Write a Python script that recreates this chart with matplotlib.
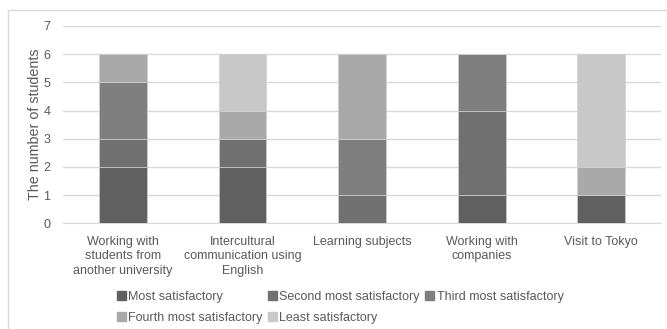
import matplotlib.pyplot as plt
import matplotlib.patches as mpatches
import numpy as np

plt.rcParams['font.family'] = ['Liberation Sans', 'DejaVu Sans']

categories = ['Working with\nstudents from\nanother university',
              'Intercultural\ncommunication using\nEnglish',
              'Learning subjects',
              'Working with\ncompanies',
              'Visit to Tokyo']
series = ['Most satisfactory', 'Second most satisfactory', 'Third most satisfactory',
          'Fourth most satisfactory', 'Least satisfactory']
most = [2, 2, 0, 1, 1]
second = [1, 1, 1, 3, 0]
third = [2, 0, 2, 2, 0]
fourth = [1, 1, 3, 0, 1]
least = [0, 2, 0, 0, 4]
colors = ['#606060', '#707070', '#7f7f7f', '#a9a9a9', '#c8c8c8']

txt = '#595959'
fs = 9
fig = plt.figure(figsize=(6.67, 3.29), dpi=100)
ax = fig.add_axes([0.0945, 0.321, 0.8965, 0.600])

x = np.arange(len(categories))
bottom = np.zeros(len(categories))
handles = []
for name, vals, c in zip(series, [most, second, third, fourth, least], colors):
    ax.bar(x, vals, 0.4, bottom=bottom, color=c, edgecolor='#d0d0d0', linewidth=0.5, zorder=3)
    bottom += np.array(vals)
    handles.append(mpatches.Patch(color=c, label=name))

ax.set_xlim(-0.5, len(categories) - 0.5)
ax.set_ylim(0, 7)
ax.set_yticks(range(8))
ax.set_xticks(x)
ax.set_xticklabels(categories, fontsize=fs, color=txt, linespacing=1.28)
ax.tick_params(axis='y', labelsize=fs, labelcolor=txt, length=0, pad=9)
ax.tick_params(axis='x', length=0, pad=9)
ax.grid(axis='y', color='#d9d9d9', linewidth=1, zorder=0)
for s in ['top', 'right', 'left']:
    ax.spines[s].set_visible(False)
ax.spines['bottom'].set_color('#d9d9d9')
ax.set_ylabel('The number of students', fontsize=10.3, color=txt, labelpad=1)

# column-wise order so that legend reads row by row
order = [0, 3, 1, 4, 2]
leg = fig.legend([handles[i] for i in order], [series[i] for i in order],
                 loc='upper center', bbox_to_anchor=(0.51, 0.151), ncol=3,
                 frameon=False, fontsize=fs, handlelength=0.7, handleheight=0.7,
                 handletextpad=0.2, columnspacing=0.45, labelspacing=0.75)
for t in leg.get_texts():
    t.set_color(txt)

border = mpatches.Rectangle((8 / 667, -0.1), 1.2, 0.1 + 1 - 10 / 329, transform=fig.transFigure,
                            fill=False, edgecolor='#d9d9d9', linewidth=1)
fig.add_artist(border)

fig.savefig('out.png', dpi=100)
